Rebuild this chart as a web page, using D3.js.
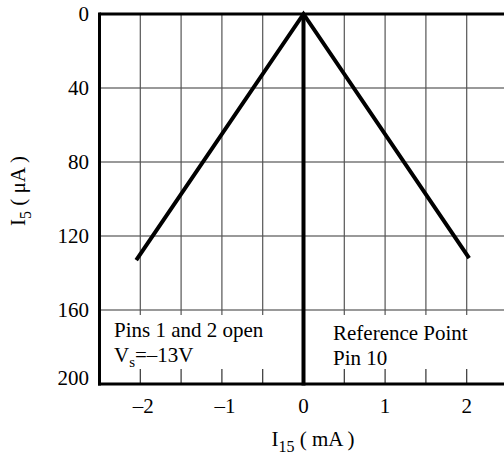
<!DOCTYPE html>
<html>
<head>
<meta charset="utf-8">
<script src="https://cdn.jsdelivr.net/npm/d3@7"></script>
<style>
  body { margin: 0; background: #fff; }
  text { font-family: "Liberation Serif", "Times New Roman", serif; font-size: 21px; fill: #000; }
</style>
</head>
<body>
<svg id="svg1" width="504" height="457"></svg>
<script>
window.onload = function () {

    // values
    let xTicks = [-2, -1, 0, 1, 2];
    let yTicks = [0, 40, 80, 120, 160, 200];
    let gridX = [-2, -1.5, -1, -0.5, 0.5, 1, 1.5, 2];
    let gridY = [40, 80, 120, 160];
    let currX = [-2.05, 0, 2.03];   // I15 (mA)
    let currY = [133, 0, 132];      // I5 (uA)

    var svg1 = d3.select("#svg1");
    var xScale = d3.scaleLinear().domain([-2.5, 2.5]).range([99.5, 507.5]),
        yScale = d3.scaleLinear().domain([0, 200]).range([14, 384]);

    // horizontal grid
    svg1.selectAll(".gy").data(gridY).enter().append("line")
        .attr("x1", xScale(-2.5)).attr("x2", 504)
        .attr("y1", d => yScale(d)).attr("y2", d => yScale(d))
        .attr("stroke", "#777").attr("stroke-width", 1.3);

    // vertical grid, stops just below the 160 line
    svg1.selectAll(".gx").data(gridX).enter().append("line")
        .attr("x1", d => xScale(d)).attr("x2", d => xScale(d))
        .attr("y1", yScale(0)).attr("y2", yScale(160) + 5)
        .attr("stroke", "#555").attr("stroke-width", 1.2);

    // bottom ticks
    svg1.selectAll(".tk").data(gridX).enter().append("line")
        .attr("x1", d => xScale(d)).attr("x2", d => xScale(d))
        .attr("y1", yScale(200) - 15).attr("y2", yScale(200))
        .attr("stroke", "#333").attr("stroke-width", 1.2);

    // frame
    svg1.append("line").attr("x1", xScale(-2.5)).attr("x2", 504)
        .attr("y1", yScale(0)).attr("y2", yScale(0)).attr("stroke", "#000").attr("stroke-width", 3);
    svg1.append("line").attr("x1", xScale(-2.5) - 1.5).attr("x2", 504)
        .attr("y1", yScale(200)).attr("y2", yScale(200)).attr("stroke", "#000").attr("stroke-width", 3);
    svg1.append("line").attr("x1", xScale(-2.5)).attr("x2", xScale(-2.5))
        .attr("y1", yScale(0) - 1.5).attr("y2", yScale(200) + 1.5).attr("stroke", "#000").attr("stroke-width", 3);
    svg1.append("line").attr("x1", xScale(0)).attr("x2", xScale(0))
        .attr("y1", yScale(0)).attr("y2", yScale(200) + 1.5).attr("stroke", "#000").attr("stroke-width", 4);

    // curve
    var pts = currX.map((x, i) => [x, currY[i]]);
    svg1.append("path").datum(pts)
        .attr("d", d3.line().x(d => xScale(d[0])).y(d => yScale(d[1])))
        .attr("fill", "none").attr("stroke", "#000").attr("stroke-width", 4)
        .attr("stroke-linejoin", "miter");

    // y tick labels
    svg1.selectAll(".yl").data(yTicks).enter().append("text")
        .attr("x", 89).attr("y", d => yScale(d) + (d == 200 ? 1 : 7))
        .attr("text-anchor", "end")
        .text(d => d);

    // x tick labels
    svg1.selectAll(".xl").data(xTicks).enter().append("text")
        .attr("x", d => xScale(d) + (d < 0 ? 3 : 0)).attr("y", 413)
        .attr("text-anchor", "middle")
        .text(d => d < 0 ? "\u2013" + Math.abs(d) : d);

    // axis titles
    var xt = svg1.append("text").attr("x", 313).attr("y", 446).attr("text-anchor", "middle");
    xt.append("tspan").text("I");
    xt.append("tspan").attr("dy", 6).style("font-size", "16px").text("15");
    xt.append("tspan").attr("dy", -6).text(" ( mA )");

    var yt = svg1.append("text").attr("transform", "translate(25,191) rotate(-90)").attr("text-anchor", "middle");
    yt.append("tspan").text("I");
    yt.append("tspan").attr("dy", 6).style("font-size", "16px").text("5");
    yt.append("tspan").attr("dy", -6).text(" ( \u03bcA )");

    // notes
    svg1.append("text").attr("x", 114).attr("y", 337).text("Pins 1 and 2 open");
    var vs = svg1.append("text").attr("x", 114).attr("y", 362);
    vs.append("tspan").text("V");
    vs.append("tspan").attr("dy", 5).style("font-size", "15px").text("s");
    vs.append("tspan").attr("dy", -5).text("=\u201313V");
    svg1.append("text").attr("x", 333).attr("y", 340).text("Reference Point");
    svg1.append("text").attr("x", 333).attr("y", 365).text("Pin 10");
}
</script>
</body>
</html>
